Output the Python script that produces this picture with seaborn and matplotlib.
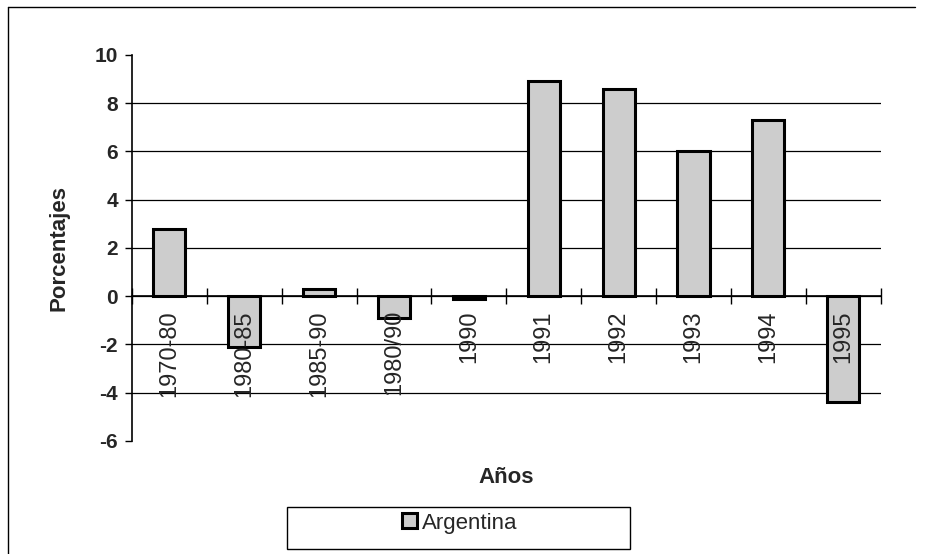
import numpy as np
import matplotlib.pyplot as plt
import seaborn as sns
from matplotlib.lines import Line2D
from matplotlib.patches import Rectangle

periodos = ["1970-80", "1980-85", "1985-90", "1980/90", "1990",
            "1991", "1992", "1993", "1994", "1995"]
argentina = [2.8, -2.1, 0.3, -0.9, -0.1, 8.9, 8.6, 6.0, 7.3, -4.4]
y_ticks = [-6, -4, -2, 0, 2, 4, 6, 8, 10]

sns.set_theme(style="white")
plt.rcParams["font.family"] = ["Liberation Sans", "DejaVu Sans"]

fig = plt.figure(figsize=(9.29, 5.54), dpi=100)
ax = fig.add_axes([0.142, 0.204, 0.806, 0.697])

sns.barplot(x=periodos, y=argentina, color="#cdcdcd", saturation=1,
            width=0.43, edgecolor="black", linewidth=2.2,
            label="Argentina", ax=ax, zorder=3)

ax.set_ylim(-6, 10)
ax.set_xlim(-0.5, 9.5)
ax.set_yticks(y_ticks)
ax.set_yticklabels([str(v) for v in y_ticks], fontsize=15, fontweight="bold")
ax.tick_params(axis="y", left=True, length=5, width=1, pad=5, color="black")

# horizontal gridlines, none at the top and bottom limits
ax.set_axisbelow(True)
ax.grid(axis="y", color="black", linewidth=0.9)
ax.grid(axis="x", visible=False)
gl = ax.get_ygridlines()
gl[0].set_visible(False)
gl[-1].set_visible(False)

# x axis sits at zero, ticks between categories, labels under each bar
ax.spines["top"].set_visible(False)
ax.spines["right"].set_visible(False)
ax.spines["left"].set_color("black")
ax.spines["left"].set_linewidth(1.2)
ax.spines["bottom"].set_position(("data", 0))
ax.spines["bottom"].set_color("black")
ax.spines["bottom"].set_linewidth(1.2)
ax.set_xticks(np.arange(-0.5, 10, 1))
ax.set_xticklabels([])
ax.set_xticks(range(len(periodos)), minor=True)
ax.set_xticklabels(periodos, minor=True, rotation=90, fontsize=17)
ax.tick_params(axis="x", which="major", bottom=True, direction="inout",
               length=11, width=1, color="black")
ax.tick_params(axis="x", which="minor", bottom=True, length=0, pad=10)
# category labels are printed over the negative bars
ax.xaxis.set_zorder(5)

ax.set_ylabel("Porcentajes", fontsize=16, fontweight="bold")
ax.yaxis.set_label_coords(-0.083, 0.5)
ax.set_xlabel("Años", fontsize=16, fontweight="bold")
ax.xaxis.set_label_coords(0.5, -0.067)

ax.legend(loc="center", bbox_to_anchor=(460 / 929, 1 - 523 / 554),
          bbox_transform=fig.transFigure, frameon=False, fontsize=16,
          handlelength=0.65, handleheight=0.65, handletextpad=0.25)
fig.add_artist(Rectangle((287 / 929, 1 - 549 / 554), 343 / 929, 42 / 554,
                         transform=fig.transFigure, fill=False,
                         edgecolor="black", linewidth=1))

# scanned page frame: top and left edges only
fig.add_artist(Line2D([8 / 929, 915 / 929], [1 - 7 / 554, 1 - 7 / 554],
                      transform=fig.transFigure, color="black", linewidth=1))
fig.add_artist(Line2D([8 / 929, 8 / 929], [1 - 7 / 554, 0],
                      transform=fig.transFigure, color="black", linewidth=1))

fig.savefig("out.png", dpi=100)
